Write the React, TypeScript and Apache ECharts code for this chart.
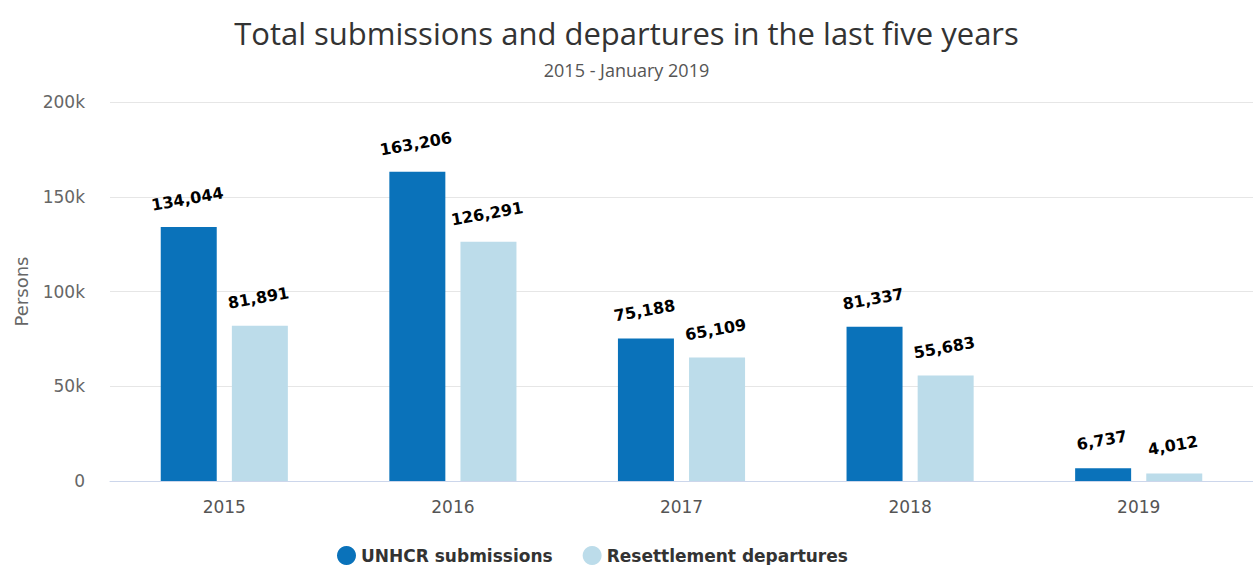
import React, { useEffect, useRef } from "react";
import * as echarts from "echarts";

const categories = ["2015", "2016", "2017", "2018", "2019"];
const submissions = [134044, 163206, 75188, 81337, 6737];
const departures = [81891, 126291, 65109, 55683, 4012];
const yTicks = [0, 50000, 100000, 150000, 200000];

const fmt = (v: number) => v.toLocaleString("en-US");

export default function App() {
  const ref = useRef<HTMLDivElement>(null);
  useEffect(() => {
    if (!ref.current) return;
    const chart = echarts.init(ref.current, null, { renderer: "svg" });
    const labelStyle = {
      show: true,
      position: "top" as const,
      distance: 20,
      rotate: 10,
      fontFamily: "DejaVu Sans",
      fontWeight: "bold" as const,
      fontSize: 16,
      color: "#000",
      formatter: (p: any) => fmt(p.value),
    };
    chart.setOption({
      animation: false,
      backgroundColor: "#fff",
      title: [
        {
          text: "Total submissions and departures in the last five years",
          left: "center",
          top: 12,
          textStyle: { fontFamily: "Open Sans", fontWeight: "normal", fontSize: 31, color: "#333" },
        },
        {
          text: "2015 - January 2019",
          left: "center",
          top: 56,
          textStyle: { fontFamily: "Open Sans", fontWeight: "normal", fontSize: 18, color: "#555" },
        },
      ],
      legend: {
        left: 332,
        top: 541,
        icon: "circle",
        itemWidth: 19,
        itemHeight: 19,
        itemGap: 30,
        textStyle: { fontFamily: "DejaVu Sans", fontWeight: "bold", fontSize: 17, color: "#333" },
        data: ["UNHCR submissions", "Resettlement departures"],
      },
      grid: { left: 110, right: 0, top: 102, bottom: 84, containLabel: false },
      xAxis: {
        type: "category",
        data: categories,
        axisLine: { lineStyle: { color: "#ccd6eb" } },
        axisTick: { length: 10, lineStyle: { color: "#ccd6eb" } },
        axisLabel: { margin: 17, fontFamily: "DejaVu Sans", fontSize: 17, color: "#555" },
      },
      yAxis: {
        type: "value",
        min: yTicks[0],
        max: yTicks[yTicks.length - 1],
        interval: 50000,
        name: "Persons",
        nameLocation: "middle",
        nameRotate: 90,
        nameGap: 80,
        nameTextStyle: { fontFamily: "DejaVu Sans", fontSize: 18, color: "#666" },
        splitLine: { lineStyle: { color: "#e6e6e6" } },
        axisLabel: {
          margin: 25,
          fontFamily: "DejaVu Sans",
          fontSize: 17,
          color: "#666",
          formatter: (v: number) => (v === 0 ? "0" : v / 1000 + "k"),
        },
      },
      series: [
        {
          name: "UNHCR submissions",
          type: "bar",
          data: submissions,
          barWidth: 56,
          barGap: "27%",
          itemStyle: { color: "#0a72ba" },
          label: labelStyle,
        },
        {
          name: "Resettlement departures",
          type: "bar",
          data: departures,
          barWidth: 56,
          itemStyle: { color: "#bcdcea" },
          label: labelStyle,
        },
      ],
    });
    return () => chart.dispose();
  }, []);
  return (
    <div
      ref={ref}
      style={{ position: "fixed", left: 0, top: 0, width: 1253, height: 565, background: "#fff" }}
    />
  );
}
